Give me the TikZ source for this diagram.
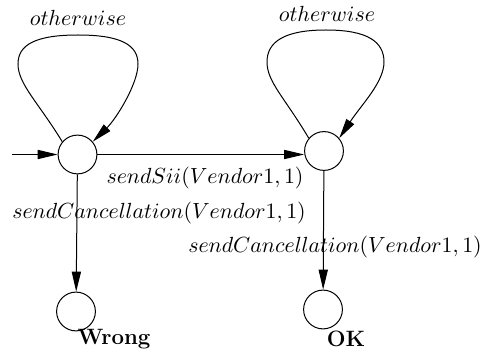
\documentclass[tikz,border=0pt]{standalone}
\usetikzlibrary{arrows.meta}
\begin{document}
\begin{tikzpicture}[x=0.5pt,y=-0.5pt,
  state/.style={draw,circle,minimum size=19.4pt,inner sep=0pt,line width=0.5pt},
  edgeline/.style={line width=0.5pt,-{Triangle[length=10pt,width=4.6pt]}},
  lbl/.style={inner sep=0pt,font=\fontsize{11.1}{13.3}\selectfont}]
\useasboundingbox (0,0) rectangle (482,352);
\node[state] (A) at (77.5,154.5) {};
\node[state] (B) at (324,151) {};
\node[state] (W) at (76,311.5) {};
\node[state] (K) at (323,309.5) {};
\coordinate (init) at (12,154.5);
\coordinate (la) at (18,64);
\coordinate (ta) at (78,35);
\coordinate (ra) at (138,64);
\coordinate (lb) at (267,62);
\coordinate (tb) at (326,30);
\coordinate (rb) at (384,62);
\node[lbl] (wl) at (114,339) {\textbf{Wrong}};
\node[lbl] (kl) at (346,339) {\textbf{OK}};
\node[lbl] (o1) at (78,18) {$otherwise$};
\node[lbl] (o2) at (327,14) {$otherwise$};
\node[lbl] (l1) at (205,178) {$sendSii(Vendor1,1)$};
\node[lbl] (l2) at (159,213) {$sendCancellation(Vendor1,1)$};
\node[lbl] (l3) at (335,247) {$sendCancellation(Vendor1,1)$};
\draw[edgeline] (init) -- (A);
\draw[edgeline] (A.east) -- (A.east -| B.west);
\draw[edgeline] (A) -- (W);
\draw[edgeline] (B) -- (K);
\draw[edgeline] (A.140) .. controls (38,102) and (18,84) .. (la)
  .. controls (18,45) and (35,35) .. (ta)
  .. controls (121,35) and (138,45) .. (ra)
  .. controls (138,84) and (116,119) .. (A.40);
\draw[edgeline] (B.140) .. controls (285,98) and (267,82) .. (lb)
  .. controls (267,42) and (284,30) .. (tb)
  .. controls (368,30) and (384,42) .. (rb)
  .. controls (384,82) and (362,104) .. (B.40);
\end{tikzpicture}
\end{document}
